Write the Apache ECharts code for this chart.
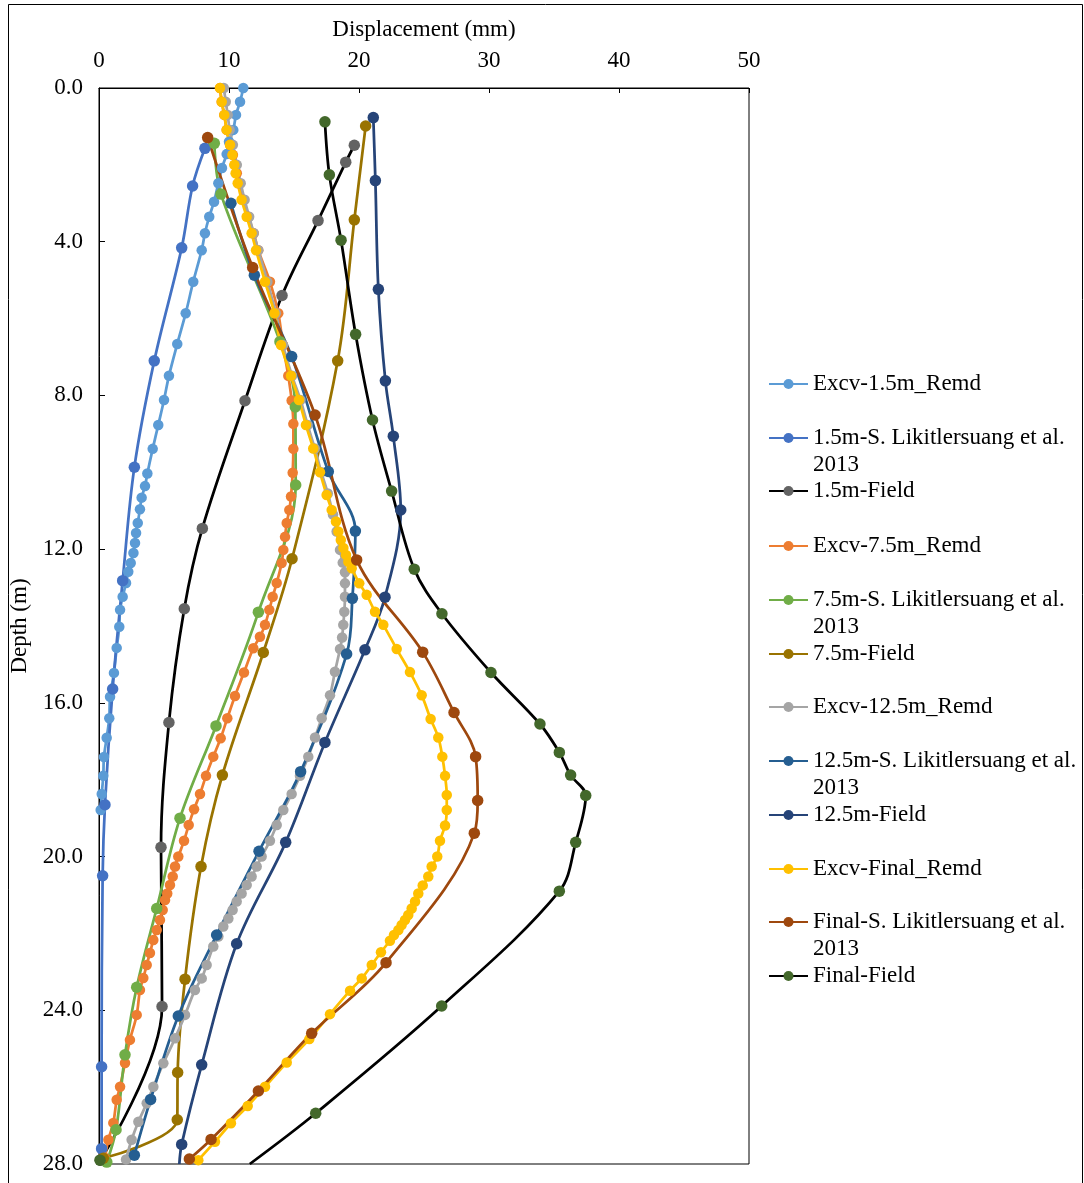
<!DOCTYPE html>
<html><head><meta charset="utf-8">
<script src="https://cdn.jsdelivr.net/npm/echarts@6/dist/echarts.min.js"></script>
<style>html,body{margin:0;padding:0;background:#fff}#c{width:1084px;height:1183px}</style>
</head><body><div id="c"></div>
<script>
// [displacement (mm), depth (m)]
const excv15Remd = [[11.1,0],[10.85,0.36],[10.54,0.7],[10.33,1.09],[10.0,1.4],[9.82,1.72],[9.46,2.08],[9.18,2.48],[8.85,2.96],[8.48,3.35],[8.15,3.78],[7.9,4.22],[7.25,5.04],[6.67,5.86],[6.02,6.66],[5.38,7.49],[5.0,8.12],[4.56,8.77],[4.13,9.39],[3.72,10.03],[3.54,10.36],[3.28,10.66],[3.15,10.96],[2.98,11.32],[2.85,11.58],[2.77,11.84],[2.65,12.1],[2.44,12.36],[2.25,12.59],[2.08,12.88],[1.82,13.24],[1.62,13.58],[1.56,14.02],[1.36,14.57],[1.15,15.22],[0.85,15.84],[0.79,16.4],[0.59,16.91],[0.38,17.41],[0.33,17.9],[0.21,18.37],[0.13,18.79]];
const s15 = [[8.15,1.57],[7.2,2.55],[6.36,4.16],[4.25,7.1],[2.72,9.87],[1.82,12.82],[1.05,15.64],[0.46,18.65],[0.28,20.5],[0.2,25.47],[0.2,27.6]];
const field15 = [[19.64,1.49],[18.98,1.93],[16.85,3.45],[14.08,5.4],[11.23,8.14],[7.95,11.46],[6.56,13.55],[5.38,16.51],[4.77,19.76],[4.85,23.9],[0.1,27.9]];
const excv75Remd = [[9.31,0],[9.44,0.36],[9.64,0.7],[9.82,1.09],[10.08,1.48],[10.3,1.74],[10.45,2.0],[10.6,2.22],[10.75,2.48],[11.1,2.91],[11.5,3.35],[11.9,3.78],[12.25,4.22],[13.15,5.04],[13.79,5.86],[14.15,6.69],[14.56,7.49],[14.82,8.13],[14.95,8.74],[14.95,9.39],[14.9,10.01],[14.77,10.63],[14.64,10.98],[14.44,11.32],[14.31,11.68],[14.18,12.02],[14.05,12.36],[13.67,12.88],[13.36,13.24],[13.1,13.58],[12.77,13.97],[12.38,14.28],[11.87,14.58],[11.15,15.21],[10.46,15.82],[9.87,16.4],[9.36,16.92],[8.79,17.4],[8.23,17.9],[7.77,18.37],[7.31,18.77],[6.9,19.18],[6.54,19.59],[6.1,20.0],[5.85,20.26],[5.67,20.52],[5.46,20.74],[5.25,20.96],[5.08,21.13],[4.9,21.39],[4.69,21.65],[4.44,21.91],[4.18,22.17],[3.92,22.51],[3.67,22.82],[3.41,23.16],[3.15,23.47],[2.9,24.12],[2.38,24.77],[2.0,25.37],[1.62,25.99],[1.36,26.33],[1.1,26.93],[0.72,27.37],[0.46,27.84]];
const s75 = [[8.87,1.44],[9.38,2.76],[13.92,6.6],[15.1,8.3],[15.13,10.33],[12.26,13.64],[9.0,16.6],[6.23,19.0],[4.44,21.35],[2.9,23.4],[2.0,25.16],[1.31,27.11],[0.6,27.95]];
const field75 = [[20.51,0.99],[19.64,3.43],[18.36,7.1],[14.85,12.25],[12.64,14.69],[9.49,17.88],[7.85,20.26],[6.62,23.19],[6.05,25.62],[6.02,26.85],[0.33,27.85]];
const excv125Remd = [[9.6,0],[9.75,0.36],[9.9,0.7],[10.05,1.09],[10.3,1.48],[10.6,2.0],[10.9,2.48],[11.2,2.91],[11.55,3.35],[11.9,3.78],[12.25,4.22],[12.95,5.04],[13.6,5.86],[14.15,6.69],[14.85,7.49],[15.5,8.12],[16.05,8.77],[16.6,9.38],[17.1,10.0],[17.6,10.55],[18.0,11.1],[18.28,11.54],[18.54,12.02],[18.75,12.35],[18.92,12.6],[18.92,12.89],[18.92,13.24],[18.87,13.63],[18.79,13.97],[18.7,14.3],[18.54,14.6],[18.15,15.19],[17.77,15.8],[17.13,16.4],[16.62,16.9],[16.1,17.4],[15.46,17.9],[14.82,18.37],[14.18,18.79],[13.67,19.18],[13.15,19.59],[12.51,20.0],[12.13,20.26],[11.74,20.52],[11.36,20.74],[10.97,20.96],[10.59,21.17],[10.28,21.39],[9.95,21.61],[9.56,21.82],[9.18,22.08],[8.79,22.34],[8.28,22.82],[7.9,23.17],[7.38,23.47],[6.62,24.12],[5.85,24.73],[4.95,25.38],[4.18,25.99],[3.67,26.42],[3.03,26.9],[2.51,27.37],[2.08,27.88]];
const s125 = [[10.15,3.0],[11.95,4.87],[14.82,6.99],[17.64,9.98],[19.72,11.53],[19.49,13.28],[19.05,14.73],[15.51,17.79],[12.31,19.86],[9.05,22.04],[6.1,24.15],[3.97,26.32],[2.72,27.77]];
const field125 = [[21.1,0.77],[21.26,2.41],[21.49,5.24],[22.03,7.62],[22.64,9.06],[23.21,10.98],[22.0,13.25],[20.46,14.62],[17.38,17.03],[14.36,19.63],[10.59,22.27],[7.9,25.42],[6.36,27.49],[6.18,28.0]];
const excvFinalRemd = [[9.31,0],[9.44,0.36],[9.64,0.7],[9.82,1.09],[10.08,1.48],[10.26,1.74],[10.41,2.0],[10.51,2.22],[10.67,2.48],[10.97,2.91],[11.36,3.35],[11.74,3.78],[12.08,4.22],[12.77,5.04],[13.49,5.86],[14.0,6.69],[14.77,7.49],[15.38,8.12],[15.92,8.77],[16.48,9.38],[17.0,10.0],[17.51,10.59],[17.9,10.98],[18.23,11.28],[18.41,11.54],[18.6,11.76],[18.8,11.97],[19.0,12.15],[19.18,12.33],[19.44,12.5],[20.02,12.89],[20.59,13.19],[21.23,13.63],[21.87,13.97],[22.9,14.6],[23.92,15.2],[24.82,15.8],[25.51,16.42],[26.1,16.9],[26.41,17.4],[26.62,17.9],[26.75,18.4],[26.75,18.79],[26.62,19.19],[26.23,19.59],[26.02,20.0],[25.59,20.26],[25.33,20.52],[24.9,20.75],[24.56,20.96],[24.31,21.17],[24.05,21.35],[23.79,21.52],[23.54,21.65],[23.28,21.78],[23.03,21.91],[22.69,22.04],[22.38,22.19],[21.69,22.49],[20.98,22.82],[20.21,23.17],[19.31,23.49],[17.77,24.1],[16.18,24.75],[14.44,25.36],[12.77,25.99],[11.44,26.49],[10.15,26.94],[8.92,27.42],[7.64,27.9]];
const sFinal = [[8.36,1.29],[11.82,4.67],[16.62,8.51],[19.82,12.28],[24.9,14.68],[27.31,16.25],[28.97,17.4],[29.13,18.54],[28.87,19.39],[22.08,22.76],[16.36,24.6],[12.26,26.1],[8.62,27.36],[6.95,27.87]];
const fieldFinal = [[17.38,0.88],[17.72,2.26],[18.62,3.96],[19.74,6.41],[21.04,8.64],[22.51,10.49],[24.25,12.52],[26.38,13.68],[30.15,15.21],[33.92,16.55],[35.41,17.29],[36.28,17.88],[37.44,18.41],[36.67,19.63],[35.41,20.9],[26.36,23.89],[16.67,26.68],[11.6,28.0]];
const fieldFinalToe = [[0.08,27.9]];

const xTicks = {min:0, max:50, step:10};
const yTicks = {min:0, max:28, step:4};

const FONT = 'Liberation Serif';
const FS = 23;
const defs = [
  {name:'Excv-1.5m_Remd', data:excv15Remd, line:'#5B9BD5', mark:'#5B9BD5', size:10.5},
  {name:'1.5m-S. Likitlersuang et al. 2013', data:s15, line:'#4472C4', mark:'#4472C4', size:11.5},
  {name:'1.5m-Field', data:field15, line:'#000000', mark:'#636363', size:11.5},
  {name:'Excv-7.5m_Remd', data:excv75Remd, line:'#ED7D31', mark:'#ED7D31', size:10.5},
  {name:'7.5m-S. Likitlersuang et al. 2013', data:s75, line:'#70AD47', mark:'#70AD47', size:11.5},
  {name:'7.5m-Field', data:field75, line:'#997300', mark:'#997300', size:11.5},
  {name:'Excv-12.5m_Remd', data:excv125Remd, line:'#A5A5A5', mark:'#A5A5A5', size:10.5},
  {name:'12.5m-S. Likitlersuang et al. 2013', data:s125, line:'#255E91', mark:'#255E91', size:11.5},
  {name:'12.5m-Field', data:field125, line:'#264478', mark:'#264478', size:11.5, hideLast:true},
  {name:'Excv-Final_Remd', data:excvFinalRemd, line:'#FFC000', mark:'#FFC000', size:10.5},
  {name:'Final-S. Likitlersuang et al. 2013', data:sFinal, line:'#9E480E', mark:'#9E480E', size:11.5},
  {name:'Final-Field', data:fieldFinal, line:'#000000', mark:'#43682B', size:11.5, hideLast:true}
];

const series = defs.map(d => ({
  name:d.name, type:'line', smooth:0.35, symbol:'circle', symbolSize:d.size, showAllSymbol:true,
  lineStyle:{width:2.75, color:d.line}, itemStyle:{color:d.mark},
  emphasis:{disabled:true},
  data:d.data.map((p,i) => (d.hideLast && i===d.data.length-1) ? {value:p, symbol:'none'} : p)
}));
series.push({name:'Final-Field', type:'line', symbol:'circle', symbolSize:11.5,
  lineStyle:{width:0}, itemStyle:{color:'#43682B'}, emphasis:{disabled:true}, data:fieldFinalToe});

const legendCenters = [384,438,491,546,600,654,707,761,815,869,922,976];
const legends = defs.map((d,i) => {
  const dbl = d.name.indexOf(' 2013') >= 0;
  return {
    left:768, top: dbl ? legendCenters[i]-40.5 : legendCenters[i]-13.5,
    padding:0, itemWidth:39, itemHeight:12.5, selectedMode:false,
    data:[d.name],
    formatter: n => dbl ? ' \n' + n.replace(' 2013','\n2013') : n,
    textStyle:{fontFamily:FONT, fontSize:FS, color:'#000', lineHeight:27}
  };
});

const chart = echarts.init(document.getElementById('c'), null, {renderer:'canvas'});
chart.setOption({
  animation:false,
  backgroundColor:'#fff',
  grid:{left:99, right:335, top:88, bottom:19, show:true, borderColor:'#000', borderWidth:1, backgroundColor:'transparent'},
  legend:legends,
  xAxis:{type:'value', position:'top', min:xTicks.min, max:xTicks.max, interval:xTicks.step,
    name:'Displacement (mm)', nameLocation:'middle', nameGap:47,
    nameTextStyle:{fontFamily:FONT, fontSize:FS, color:'#000'},
    axisLine:{show:true, lineStyle:{color:'#000', width:1}},
    axisTick:{show:true, inside:true, length:5, lineStyle:{color:'#000'}},
    axisLabel:{fontFamily:FONT, fontSize:FS, color:'#000', margin:16},
    splitLine:{show:false}},
  yAxis:{type:'value', inverse:true, min:yTicks.min, max:yTicks.max, interval:yTicks.step,
    name:'Depth (m)', nameLocation:'middle', nameGap:66,
    nameTextStyle:{fontFamily:FONT, fontSize:FS, color:'#000'},
    axisLine:{show:true, lineStyle:{color:'#000', width:1}},
    axisTick:{show:true, inside:true, length:6, lineStyle:{color:'#000'}},
    axisLabel:{fontFamily:FONT, fontSize:FS, color:'#000', margin:16, formatter:v => v.toFixed(1)},
    splitLine:{show:false}},
  graphic:[{type:'rect', silent:true, z:-1, shape:{x:8.5, y:4.5, width:1074, height:1190},
    style:{fill:'none', stroke:'#000', lineWidth:1}}],
  series:series
});
</script>
</body></html>
